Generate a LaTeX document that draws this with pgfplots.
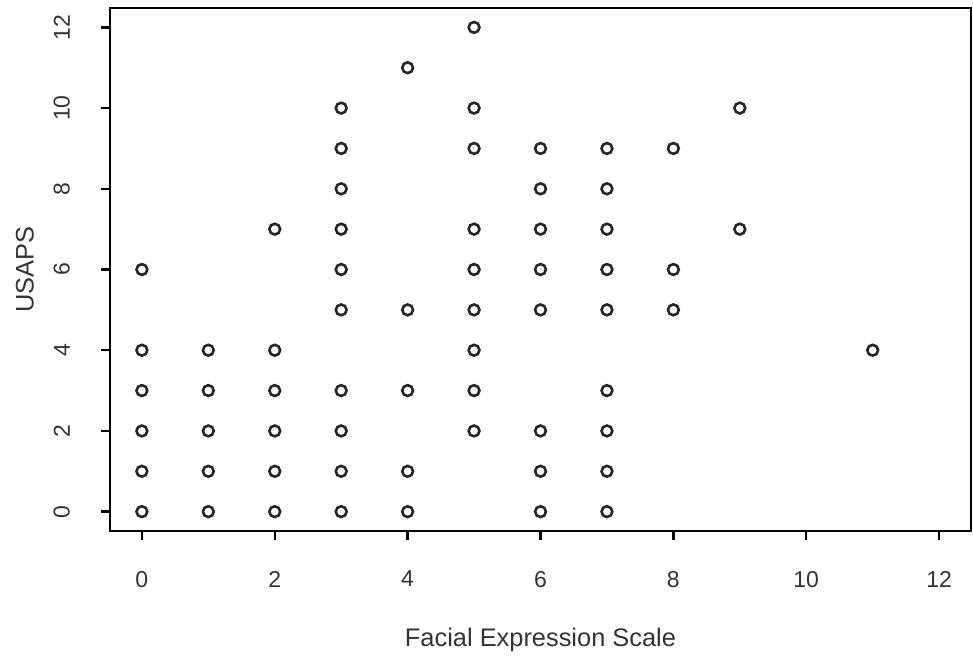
\documentclass[border=0pt]{standalone}
\usepackage{pgfplots}
\pgfplotsset{compat=1.18}
\usepackage{fontspec}
\setmainfont{Liberation Sans}
\definecolor{txt}{HTML}{333333}
\begin{document}
\begin{tikzpicture}
\path[use as bounding box] (-55pt,-65pt) rectangle (431.5pt,265.5pt);
\begin{axis}[
  at={(0,0)}, anchor=south west,
  scale only axis, width=430.5pt, height=261.5pt,
  xmin=-0.48, xmax=12.48, ymin=-0.48, ymax=12.48,
  xtick={0,2,...,12}, ytick={0,2,...,12},
  xtick pos=bottom, ytick pos=left,
  tick align=outside,
  major tick length=4pt,
  major tick style={draw=black, line width=1.2pt},
  axis line style={line width=1.3pt},
  xticklabel={\pgfmathprintnumber[assume math mode=true]{\tick}},
  yticklabel={\pgfmathprintnumber[assume math mode=true]{\tick}},
  tick label style={font=\fontsize{11.5}{13}\selectfont, text=txt},
  xticklabel style={anchor=north, yshift=-12.5pt},
  yticklabel style={rotate=90, anchor=south, yshift=12.5pt},
  xlabel={Facial Expression Scale},
  ylabel={USAPS},
  label style={font=\fontsize{12.7}{15}\selectfont, text=txt},
  xlabel style={at={(axis description cs:0.5,0)}, anchor=center, yshift=-54.5pt},
  ylabel style={at={(axis description cs:0,0.5)}, anchor=center, yshift=42.5pt},
]
\addplot[only marks, mark=o, mark size=2.7pt, mark options={line width=1.3pt, black!85}] table {
x y
0 0
0 1
0 2
0 3
0 4
0 6
1 0
1 1
1 2
1 3
1 4
2 0
2 1
2 2
2 3
2 4
2 7
3 0
3 1
3 2
3 3
3 5
3 6
3 7
3 8
3 9
3 10
4 0
4 1
4 3
4 5
4 11
5 2
5 3
5 4
5 5
5 6
5 7
5 9
5 10
5 12
6 0
6 1
6 2
6 5
6 6
6 7
6 8
6 9
7 0
7 1
7 2
7 3
7 5
7 6
7 7
7 8
7 9
8 5
8 6
8 9
9 7
9 10
11 4
};
\end{axis}
\foreach \t in {0,2,...,12}{
  \draw[line width=1.2pt, black] ({(\t+0.48)/12.96*430.5pt},-0.6pt) -- ++(0pt,-4pt);
  \draw[line width=1.2pt, black] (-0.6pt,{(\t+0.48)/12.96*261.5pt}) -- ++(-4pt,0pt);
}
\end{tikzpicture}
\end{document}
